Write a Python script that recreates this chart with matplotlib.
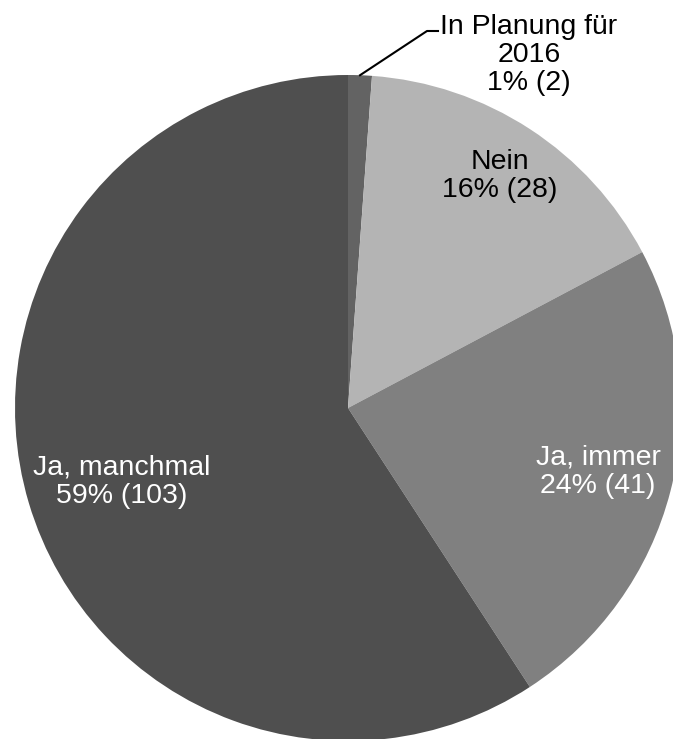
import numpy as np
import matplotlib.pyplot as plt

plt.rcParams['font.family'] = ['Liberation Sans', 'DejaVu Sans']

# data
labels = ['In Planung für\n2016', 'Nein', 'Ja, immer', 'Ja, manchmal']
counts = [2, 28, 41, 103]
colors = ['#636363', '#b4b4b4', '#808080', '#4f4f4f']
text_colors = ['black', 'black', 'white', 'white']

W, H = 673, 739
cx, cy, R = 348, H - 408, 333

fig = plt.figure(figsize=(W / 100, H / 100), dpi=100)
ax = fig.add_axes([0, 0, 1, 1])

wedges, _ = ax.pie(counts, colors=colors, startangle=90, counterclock=False,
                   center=(cx, cy), radius=R, frame=True,
                   wedgeprops=dict(linewidth=0))
ax.set_xlim(0, W)
ax.set_ylim(0, H)
ax.set_aspect('equal')
ax.axis('off')

total = sum(counts)
# label positions (pixels from top-left)
label_pos = [(529, 55), (500, 176), (598, 472), (122, 482)]

for i, (lab, n) in enumerate(zip(labels, counts)):
    pct = round(100 * n / total)
    txt = f'{lab}\n{pct}% ({n})'
    x, y = label_pos[i]
    ax.text(x, H - y, txt, ha='center', va='center', multialignment='center',
            fontsize=20.5, color=text_colors[i], linespacing=1.1)

# leader line for the small slice
w = wedges[0]
mid = np.deg2rad((w.theta1 + w.theta2) / 2)
px, py = cx + R * np.cos(mid), cy + R * np.sin(mid)
ax.plot([px, 427, 438], [py, H - 31, H - 31], color='black', lw=1.5)

fig.savefig('out.png', dpi=100)
